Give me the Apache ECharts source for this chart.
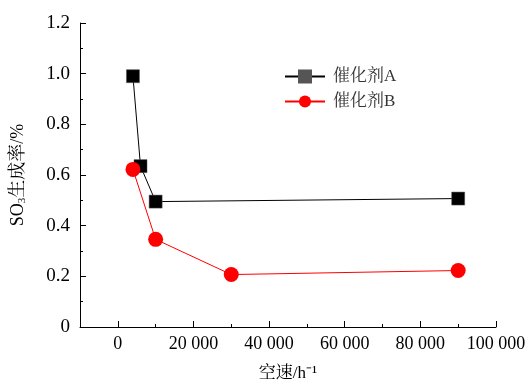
<!DOCTYPE html>
<html><head><meta charset="utf-8">
<script src="https://cdn.jsdelivr.net/npm/echarts@6/dist/echarts.min.js"></script>
<style>html,body{margin:0;padding:0;background:#fff}#c{width:528px;height:382px}</style>
</head><body><div id="c"></div>
<script>
const seriesNames = ['催化剂A', '催化剂B'];
const xA = [4000, 6000, 10000, 90000];
const yA = [0.99, 0.635, 0.495, 0.507];
const xB = [4000, 10000, 30000, 90000];
const yB = [0.622, 0.346, 0.207, 0.223];
const xMajorTicks = [0, 20000, 40000, 60000, 80000, 100000];
const xMinorTicks = [10000, 30000, 50000, 70000, 90000];
const xName = '空速/h⁻¹';

const serif = '"Liberation Serif", "Times New Roman", serif';
const cjk = '"Liberation Serif", "Noto Serif CJK SC", "Noto Sans CJK SC", serif';

function fmtX(v){ return v === 0 ? '0' : String(v).replace(/(\d)(?=(\d{3})+$)/g, '$1 '); }

const chart = echarts.init(document.getElementById('c'));
chart.setOption({
  animation: false,
  backgroundColor: '#fff',
  grid: { left: 80, right: 32, top: 23, bottom: 55, containLabel: false, outerBoundsMode: 'none' },
  legend: {
    left: 279, top: 63, orient: 'vertical', itemGap: 8,
    itemWidth: 40, itemHeight: 15,
    textStyle: { fontFamily: cjk, fontSize: 17, color: '#333', padding: [0, 0, 0, 3] },
    data: [
      { name: seriesNames[0], itemStyle: { color: '#555' } },
      { name: seriesNames[1] }
    ]
  },
  xAxis: [{
    type: 'value', min: -10000, max: 100000,
    name: xName, nameLocation: 'middle', nameGap: 38,
    nameTextStyle: { fontFamily: cjk, fontSize: 17, color: '#000' },
    axisLine: { show: true, onZero: false, lineStyle: { color: '#000', width: 1 } },
    axisTick: { show: true, inside: true, length: 6, customValues: xMajorTicks, lineStyle: { color: '#000' } },
    axisLabel: { customValues: xMajorTicks, formatter: fmtX, fontFamily: serif, fontSize: 18, color: '#000', margin: 8 },
    splitLine: { show: false }
  }, {
    type: 'value', min: -10000, max: 100000, position: 'bottom',
    axisLine: { show: false, onZero: false },
    axisTick: { show: true, inside: true, length: 3, customValues: xMinorTicks, lineStyle: { color: '#000' } },
    axisLabel: { show: false },
    splitLine: { show: false }
  }],
  yAxis: {
    type: 'value', min: 0, max: 1.2, interval: 0.2,
    name: '{a|SO}{s|3}{a|生成率/%}', nameLocation: 'middle', nameGap: 52, nameRotate: 90,
    nameTextStyle: {
      rich: {
        a: { fontFamily: cjk, fontSize: 18, color: '#000' },
        s: { fontFamily: serif, fontSize: 11, color: '#000', verticalAlign: 'bottom', padding: [8, 0, 0, 0] }
      }
    },
    axisLine: { show: true, onZero: false, lineStyle: { color: '#000', width: 1 } },
    axisTick: { show: true, inside: true, length: 6, lineStyle: { color: '#000' } },
    minorTick: { show: true, splitNumber: 2, length: 3, lineStyle: { color: '#000' } },
    axisLabel: { formatter: v => v === 0 ? '0' : v.toFixed(1), fontFamily: serif, fontSize: 19, color: '#000', margin: 10 },
    splitLine: { show: false }
  },
  series: [{
    name: seriesNames[0], type: 'line',
    data: xA.map((x, i) => [x, yA[i]]),
    symbol: 'rect', symbolSize: 13,
    itemStyle: { color: '#000', borderColor: '#555', borderWidth: 0.5 },
    lineStyle: { color: '#000', width: 1 }
  }, {
    name: seriesNames[1], type: 'line',
    data: xB.map((x, i) => [x, yB[i]]),
    symbol: 'circle', symbolSize: 15,
    itemStyle: { color: '#ff0000' },
    lineStyle: { color: '#ff0000', width: 1 }
  }]
});
</script></body></html>
